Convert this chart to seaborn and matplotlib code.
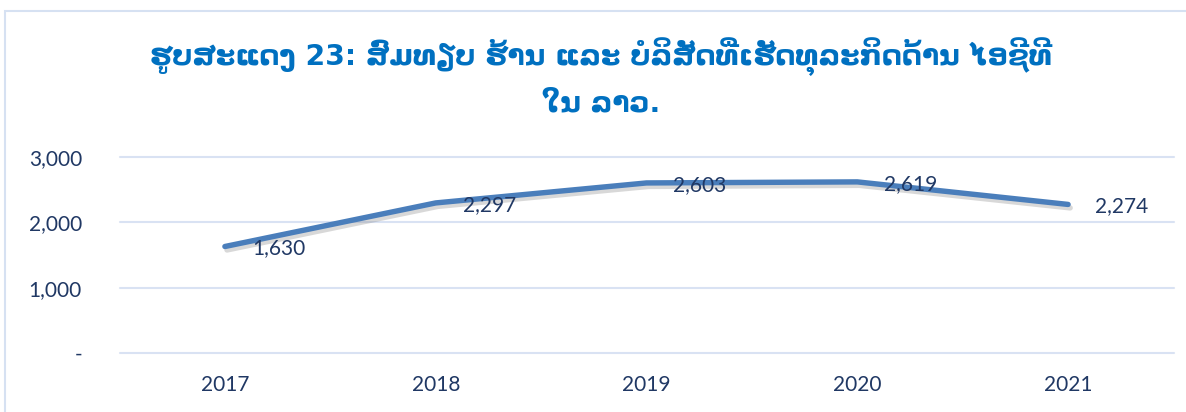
import seaborn as sns
import matplotlib.pyplot as plt
import matplotlib.patheffects as pe
from matplotlib.patches import Rectangle
import pandas as pd

# data
years = ['2017', '2018', '2019', '2020', '2021']
shops = [1630, 2297, 2603, 2619, 2274]
y_ticks = [0, 1000, 2000, 3000]
y_tick_labels = ['-', '1,000', '2,000', '3,000']
title = 'ຮູບສະແດງ 23: ສົມທຽບ ຮ້ານ ແລະ ບໍລິສັດທີ່ເຮັດທຸລະກິດດ້ານ ໄອຊີທີ\nໃນ ລາວ.'

df = pd.DataFrame({'Year': years, 'Total': shops})

sns.set_style('white')
plt.rcParams['font.family'] = ['Lato', 'DejaVu Sans']

text_color = '#203864'
line_color = '#4A7EBB'
grid_color = '#D9E2F3'

fig = plt.figure(figsize=(11.86, 4.12), dpi=100)
ax = fig.add_axes([119.5 / 1186, 59 / 412, 1054 / 1186, 196 / 412])

# outer chart frame
fig.patches.append(Rectangle((5 / 1186, -0.1), 1.2, (401 / 412) + 0.1,
                             transform=fig.transFigure, fill=False,
                             edgecolor='#D6E1F2', linewidth=1.5))

sns.lineplot(data=df, x='Year', y='Total', ax=ax, color=line_color,
             linewidth=3.9, sort=False, solid_capstyle='round',
             path_effects=[pe.SimpleLineShadow(offset=(1.5, -2.5), alpha=0.3,
                                               shadow_color='gray'),
                           pe.Normal()])

for i, v in enumerate(shops):
    ax.annotate(f'{v:,}', (i, v), xytext=(27, -2), textcoords='offset pixels',
                ha='left', va='center', fontsize=15, color=text_color)

ax.set_xlim(-0.5, 4.5)
ax.set_ylim(0, 3000)
ax.set_yticks(y_ticks)
ax.set_yticklabels(y_tick_labels)
ax.grid(axis='y', color=grid_color, linewidth=1.5)
ax.set_axisbelow(True)
for gl in ax.get_ygridlines():
    gl.set_clip_on(False)
for s in ax.spines.values():
    s.set_visible(False)
ax.tick_params(axis='both', length=0, labelsize=15, labelcolor=text_color)
ax.tick_params(axis='y', pad=27)
ax.tick_params(axis='x', pad=16)
ax.set(xlabel='', ylabel='')

fig.text(601 / 1186, 1 - 77 / 412, title, ha='center', va='center',
         fontsize=20.3, fontweight='bold', color='#0070C0',
         family=['DejaVu Sans'], linespacing=1.6)

fig.savefig('out.png', dpi=100)
